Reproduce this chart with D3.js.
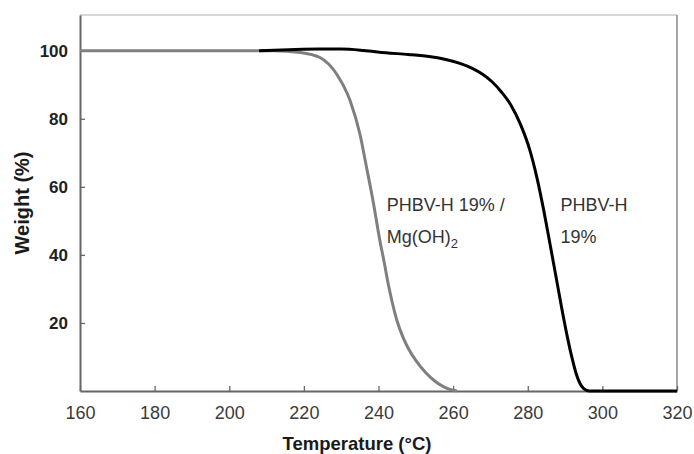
<!DOCTYPE html>
<html>
<head>
<meta charset="utf-8">
<script src="https://cdn.jsdelivr.net/npm/d3@7"></script>
<style>
  body { margin: 0; background: #fff; }
  text { font-family: "Liberation Sans", Arial, sans-serif; }
</style>
</head>
<body>
<div id="chart"></div>
<script>
var svgWidth = 694;
var svgHeight = 454;

var margin = { top: 15, right: 17, bottom: 63, left: 80 };
var width = svgWidth - margin.left - margin.right;
var height = svgHeight - margin.top - margin.bottom;

// TGA curves: temperature (°C) vs remaining weight (%)
var pureTemp   = [208, 216, 224, 230, 236, 242, 248, 254, 258, 262, 265, 268, 270.5, 273, 275.5, 278, 280.5, 282.5, 284.3, 286, 287.5, 289, 290.5, 291.8, 293, 294, 295, 296.5, 310, 320];
var pureWeight = [100, 100.3, 100.5, 100.5, 100.1, 99.4, 98.9, 98.2, 97.4, 96.2, 94.9, 93.0, 90.8, 87.8, 84.0, 78.5, 71.0, 62.5, 53.0, 43.0, 34.0, 25.0, 16.5, 10.0, 5.0, 2.2, 0.7, 0, 0, 0];

var mgTemp   = [160, 180, 200, 212, 219, 224.3, 228.8, 232.4, 235.0, 236.8, 238.6, 240.4, 241.5, 242.6, 243.8, 245, 246.5, 248, 250, 252.5, 255, 257.5, 260, 261];
var mgWeight = [100, 100, 100, 100, 99.5, 98.0, 93.1, 85.3, 75.6, 65.7, 55.5, 44.0, 38.0, 31.5, 25.5, 20.5, 16.0, 12.5, 9.0, 5.6, 3.0, 1.2, 0.2, 0];

var xTicks = [160, 180, 200, 220, 240, 260, 280, 300, 320];
var yTicks = [20, 40, 60, 80, 100];

var svg = d3.select("#chart")
  .append("svg")
  .attr("width", svgWidth)
  .attr("height", svgHeight);

var chartGroup = svg.append("g")
  .attr("transform", `translate(${margin.left}, ${margin.top})`);

var xScale = d3.scaleLinear().domain([160, 320]).range([0, width]);
var yScale = d3.scaleLinear().domain([0, 110.5]).range([height, 0]);

// plot frame: light top edge, grey right edge
chartGroup.append("line")
  .attr("x1", 0).attr("x2", width).attr("y1", 0).attr("y2", 0)
  .attr("stroke", "#c8c8c8").attr("stroke-width", 1.5);
chartGroup.append("line")
  .attr("x1", width).attr("x2", width).attr("y1", 0).attr("y2", height)
  .attr("stroke", "#8a8a8a").attr("stroke-width", 1.5);

// axes with small inward ticks
var xAxis = d3.axisBottom(xScale).tickValues(xTicks).tickSizeInner(-5).tickSizeOuter(0).tickPadding(12);
var yAxis = d3.axisLeft(yScale).tickValues(yTicks).tickSizeInner(-5).tickSizeOuter(0).tickPadding(12);

var gx = chartGroup.append("g")
  .attr("transform", `translate(0, ${height})`)
  .call(xAxis);
gx.select(".domain").attr("stroke", "#666").attr("stroke-width", 2);
gx.selectAll(".tick line").attr("stroke", "#666").attr("stroke-width", 1.3);
gx.selectAll(".tick text")
  .attr("font-size", 18)
  .attr("fill", "#3a3a3a")
  .attr("dy", "0.9em");

var gy = chartGroup.append("g").call(yAxis);
gy.select(".domain").attr("stroke", "#666").attr("stroke-width", 2);
gy.selectAll(".tick line").attr("stroke", "#666").attr("stroke-width", 1.3);
gy.selectAll(".tick text")
  .attr("font-size", 17)
  .attr("font-weight", "bold")
  .attr("fill", "#222");

// curves
var line = d3.line()
  .x(d => xScale(d[0]))
  .y(d => yScale(d[1]))
  .curve(d3.curveMonotoneX);

chartGroup.append("path")
  .datum(d3.zip(mgTemp, mgWeight))
  .attr("d", line)
  .attr("fill", "none")
  .attr("stroke", "#7f7f7f")
  .attr("stroke-width", 3);

chartGroup.append("path")
  .datum(d3.zip(pureTemp, pureWeight))
  .attr("d", line)
  .attr("fill", "none")
  .attr("stroke", "#000")
  .attr("stroke-width", 3);

// curve labels
var lab1 = chartGroup.append("text")
  .attr("x", xScale(242.2))
  .attr("y", 196)
  .attr("font-size", 18)
  .attr("fill", "#333");
lab1.append("tspan").attr("x", xScale(242.2)).text("PHBV-H 19% /");
lab1.append("tspan").attr("x", xScale(242.2)).attr("dy", 32).text("Mg(OH)");
lab1.append("tspan").attr("font-size", 13).attr("dy", 5).text("2");

chartGroup.append("text")
  .attr("x", xScale(288.8))
  .attr("y", 196)
  .attr("font-size", 18)
  .attr("fill", "#333")
  .call(t => {
    t.append("tspan").attr("x", xScale(288.8)).text("PHBV-H");
    t.append("tspan").attr("x", xScale(288.8)).attr("dy", 32).text("19%");
  });

// axis titles
svg.append("text")
  .attr("transform", "translate(29, 203) rotate(-90)")
  .attr("text-anchor", "middle")
  .attr("font-size", 20)
  .attr("font-weight", "bold")
  .attr("fill", "#1a1a1a")
  .text("Weight (%)");

svg.append("text")
  .attr("x", 357)
  .attr("y", 450)
  .attr("text-anchor", "middle")
  .attr("font-size", 18.5)
  .attr("font-weight", "bold")
  .attr("fill", "#1a1a1a")
  .text("Temperature (°C)");
</script>
</body>
</html>
